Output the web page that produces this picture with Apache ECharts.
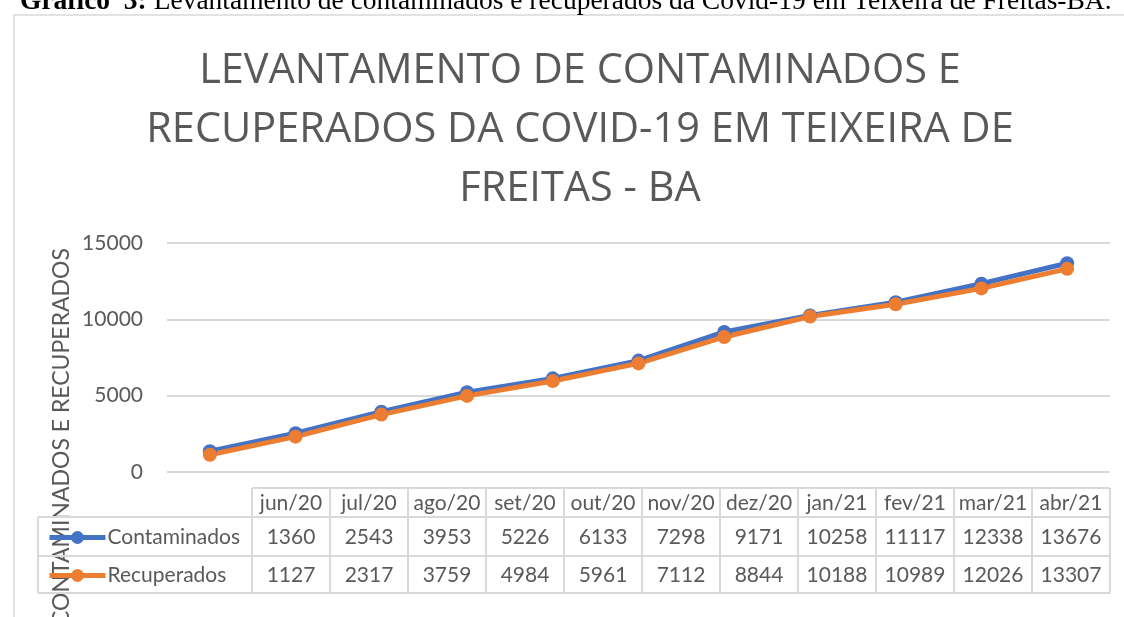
<!DOCTYPE html>
<html>
<head>
    <meta charset="utf-8">
    <title>Covid-19 Teixeira de Freitas</title>
    <script src="https://cdn.jsdelivr.net/npm/echarts@6/dist/echarts.min.js"></script>
</head>
<body style="margin:0">
<div id="main" style="width: 1124px;height:617px;"></div>
<script type="text/javascript">
    // data
    var months = ['jun/20', 'jul/20', 'ago/20', 'set/20', 'out/20', 'nov/20', 'dez/20', 'jan/21', 'fev/21', 'mar/21', 'abr/21'];
    var contaminados = [1360, 2543, 3953, 5226, 6133, 7298, 9171, 10258, 11117, 12338, 13676];
    var recuperados = [1127, 2317, 3759, 4984, 5961, 7112, 8844, 10188, 10989, 12026, 13307];
    var yTicks = [0, 5000, 10000, 15000];

    var gray = '#595959';
    var border = '#d9d9d9';
    var font = 'Lato, "Open Sans", sans-serif';

    // data table under the plot (Excel style)
    var tbl = {x0: 38, xCol: 252, colW: 78, rows: [488, 517, 556, 593]};
    var graphics = [];

    // outer chart frame
    graphics.push({
        type: 'rect', shape: {x: 14, y: 15, width: 1130, height: 700},
        style: {fill: null, stroke: border, lineWidth: 1.5}, silent: true
    });
    // caption above the chart
    graphics.push({
        type: 'text', left: 20, top: -12,
        style: {
            text: '{b|Gráfico  3:} Levantamento de contaminados e recuperados da Covid-19 em Teixeira de Freitas-BA.',
            font: '27.5px "Liberation Serif", serif', fill: '#000',
            rich: {b: {fontWeight: 'bold', fontFamily: '"Liberation Serif", serif', fontSize: 27.5}}
        }
    });
    // y axis title
    graphics.push({
        type: 'text', x: 62, y: 437, rotation: Math.PI / 2,
        style: {
            text: 'CONTAMINADOS E RECUPERADOS', fill: gray,
            font: '23px ' + font, align: 'center', verticalAlign: 'middle'
        }
    });

    var lineStyle = {stroke: border, lineWidth: 2};
    var xEnd = tbl.xCol + months.length * tbl.colW;
    // horizontal lines
    graphics.push({type: 'line', shape: {x1: tbl.xCol, y1: tbl.rows[0], x2: xEnd, y2: tbl.rows[0]}, style: lineStyle});
    for (var r = 1; r < tbl.rows.length; r++) {
        graphics.push({type: 'line', shape: {x1: tbl.x0, y1: tbl.rows[r], x2: xEnd, y2: tbl.rows[r]}, style: lineStyle});
    }
    // vertical lines
    graphics.push({type: 'line', shape: {x1: tbl.x0, y1: tbl.rows[1], x2: tbl.x0, y2: tbl.rows[3]}, style: lineStyle});
    for (var c = 0; c <= months.length; c++) {
        var xx = tbl.xCol + c * tbl.colW;
        graphics.push({type: 'line', shape: {x1: xx, y1: tbl.rows[0], x2: xx, y2: tbl.rows[3]}, style: lineStyle});
    }
    var rowsText = [months, contaminados, recuperados];
    rowsText.forEach(function (vals, ri) {
        var cy = (tbl.rows[ri] + tbl.rows[ri + 1]) / 2 + 1;
        vals.forEach(function (v, ci) {
            graphics.push({
                type: 'text', x: tbl.xCol + ci * tbl.colW + tbl.colW / 2, y: cy,
                style: {text: String(v), fill: gray, font: '21px ' + font, align: 'center', verticalAlign: 'middle'}
            });
        });
    });

    var myChart = echarts.init(document.getElementById('main'));
    var legendBase = {
        orient: 'vertical', itemWidth: 56, itemHeight: 16, itemGap: 0,
        lineStyle: {width: 5},
        textStyle: {color: gray, fontSize: 21, fontFamily: font, padding: [0, 0, 0, -3]}
    };
    var option = {
        animation: false,
        title: {
            text: 'LEVANTAMENTO DE CONTAMINADOS E\nRECUPERADOS DA COVID-19 EM TEIXEIRA DE\nFREITAS - BA',
            left: 575, top: 37, textAlign: 'center',
            textStyle: {color: gray, fontSize: 41.5, fontWeight: 'normal', fontFamily: '"Open Sans", sans-serif', lineHeight: 59}
        },
        legend: [
            Object.assign({data: ['Contaminados'], left: 42, top: 522}, legendBase),
            Object.assign({data: ['Recuperados'], left: 42, top: 560}, legendBase)
        ],
        grid: {left: 167, right: 14, top: 243, bottom: 145},
        xAxis: {
            type: 'category', data: months,
            axisLine: {show: false}, axisTick: {show: false}, axisLabel: {show: false}
        },
        yAxis: {
            type: 'value', min: yTicks[0], max: yTicks[yTicks.length - 1], interval: 5000,
            axisLabel: {color: gray, fontSize: 21, fontFamily: font, margin: 24,
                formatter: function (v) { return String(v); }},
            splitLine: {lineStyle: {color: border, width: 2}}
        },
        series: [{
            name: 'Contaminados', type: 'line', data: contaminados,
            symbol: 'circle', symbolSize: 14,
            lineStyle: {color: '#4472C4', width: 5},
            itemStyle: {color: '#4472C4'}
        }, {
            name: 'Recuperados', type: 'line', data: recuperados,
            symbol: 'circle', symbolSize: 14,
            lineStyle: {color: '#ED7D31', width: 5},
            itemStyle: {color: '#ED7D31'}
        }],
        graphic: graphics
    };
    myChart.setOption(option);
</script>
</body>
</html>
